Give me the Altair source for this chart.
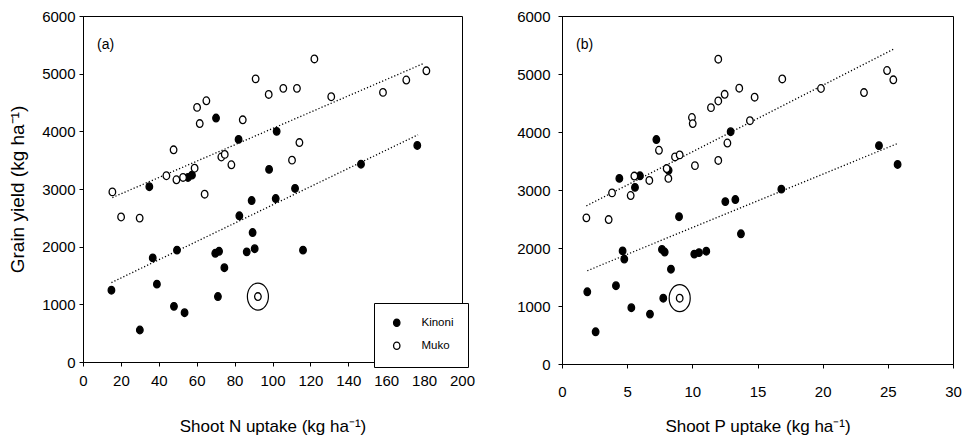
import altair as alt
import pandas as pd

# ---------------- data ----------------
# Panel (a): shoot N uptake (kg/ha) vs grain yield (kg/ha)
kin_a_x = [15, 30, 35, 36.8, 39, 49.6, 48, 53.6, 55.4, 57.5, 70.2, 69.8, 71.8, 71.2,
           74.6, 82.1, 82.5, 86.4, 89, 89.5, 90.6, 98.2, 102.2, 101.7, 111.9, 116.1,
           146.7, 176.4]
kin_a_y = [1245, 555, 3040, 1805, 1350, 1940, 965, 855, 3200, 3240, 4230, 1885, 1920,
           1135, 1635, 3860, 2535, 1910, 2800, 2245, 1965, 3340, 4000, 2835, 3010, 1940,
           3430, 3755]
muko_a_x = [15.5, 20.1, 29.9, 44, 47.8, 49.3, 52.8, 58.9, 60.2, 61.6, 65.1, 64.2, 73,
            74.8, 78.3, 84.3, 91.1, 92.3, 98, 105.7, 110.3, 112.9, 114.2, 122.1, 131,
            158.3, 170.6, 181.2]
muko_a_y = [2950, 2515, 2495, 3230, 3680, 3160, 3200, 3360, 4415, 4135, 4530, 2910,
            3555, 3600, 3420, 4200, 4910, 1135, 4640, 4745, 3500, 4745, 3805, 5255,
            4600, 4675, 4890, 5050]

# Panel (b): shoot P uptake (kg/ha) vs grain yield (kg/ha)
kin_b_x = [1.94, 2.58, 4.4, 4.65, 4.78, 4.14, 5.32, 5.6, 5.98, 6.75, 7.24, 7.67, 7.88,
           8.36, 7.77, 8.98, 8.18, 10.15, 10.51, 11.07, 12.53, 12.94, 13.3, 13.73,
           16.83, 24.32, 25.75]
kin_b_y = [1245, 555, 3200, 1950, 1810, 1350, 970, 3045, 3245, 860, 3870, 1975, 1930,
           1635, 1135, 2540, 3340, 1895, 1920, 1945, 2800, 4005, 2835, 2245, 3015, 3765,
           3440]
muko_b_x = [1.87, 3.58, 3.84, 5.27, 5.55, 6.7, 7.44, 8.03, 8.16, 8.67, 9.03, 9.03, 9.97,
            10.03, 10.2, 11.43, 11.99, 11.99, 11.99, 12.48, 12.69, 13.6, 14.42, 14.78,
            16.9, 19.87, 23.17, 24.94, 25.42]
muko_b_y = [2520, 2490, 2950, 2905, 3240, 3165, 3685, 3370, 3200, 3570, 3605, 1135, 4250,
            4145, 3420, 4420, 4535, 5255, 3510, 4650, 3810, 4755, 4195, 4600, 4915, 4750,
            4680, 5060, 4900]

# fitted trend lines (end points)
fit_a_site = ["Muko", "Muko", "Kinoni", "Kinoni"]
fit_a_x = [15.5, 179.8, 15, 176.8]
fit_a_y = [2852, 5178, 1377, 3940]
fit_b_site = ["Muko", "Muko", "Kinoni", "Kinoni"]
fit_b_x = [1.87, 25.42, 1.94, 25.73]
fit_b_y = [2727, 5426, 1608, 3801]

# circled outlier
ring_a_x = [92.3]
ring_a_y = [1135]
ring_b_x = [9.03]
ring_b_y = [1135]

sites = ["Kinoni", "Muko"]
x_ticks_a = list(range(0, 201, 20))
x_ticks_b = list(range(0, 31, 5))
y_ticks = list(range(0, 6001, 1000))

FONT = "'Liberation Sans', Arial, sans-serif"
DOT = "M-0.86,0A0.86,1,0,1,0,0.86,0A0.86,1,0,1,0,-0.86,0Z"
RING = "M-0.78,0A0.78,1,0,1,0,0.78,0A0.78,1,0,1,0,-0.78,0Z"


def points_df(kx, ky, mx, my):
    return pd.DataFrame({
        "x": kx + mx,
        "y": ky + my,
        "site": ["Kinoni"] * len(kx) + ["Muko"] * len(mx),
    })


def panel(pts, fit, ring, xdomain, xticks, xtitle, ytitle, label, w, h,
          show_legend, xlabpad, xtitlepad, ylabpad):
    xsc = alt.Scale(domain=xdomain, nice=False, zero=False)
    ysc = alt.Scale(domain=[0, 6000], nice=False)
    xax = alt.Axis(values=xticks, title=xtitle, format="d", tickSize=4,
                   labelPadding=xlabpad, titlePadding=xtitlepad, grid=False,
                   labelFont=FONT, labelFontSize=15, titleFont=FONT, titleFontSize=17,
                   titleFontWeight="normal", labelColor="black", titleColor="black",
                   domainColor="black", tickColor="black", labelFlush=False,
                   labelOverlap=False, labelSeparation=0)
    yax_kwargs = dict(values=y_ticks, format="d", tickSize=4, labelPadding=ylabpad,
                      grid=False, labelFont=FONT, labelFontSize=15, titleFont=FONT,
                      titleFontSize=19, titleFontWeight="normal", labelColor="black",
                      titleColor="black", domainColor="black", tickColor="black",
                      titlePadding=14, labelFlush=False, labelOverlap=False)
    if ytitle:
        yax = alt.Axis(title=ytitle, **yax_kwargs)
    else:
        yax = alt.Axis(title=None, **yax_kwargs)

    X = alt.X("x:Q", scale=xsc, axis=xax)
    Y = alt.Y("y:Q", scale=ysc, axis=yax)

    fill_kwargs = dict(scale=alt.Scale(domain=sites, range=["black", "white"]))
    if show_legend:
        legend = alt.Legend(title=None, orient="none", legendX=291, legendY=287,
                            strokeColor="black", padding=14, symbolOffset=3,
                            labelOffset=19, rowPadding=9, symbolSize=55,
                            symbolType=DOT, symbolStrokeColor="black",
                            symbolStrokeWidth=1.3, labelFont=FONT,
                            labelFontSize=11.5, labelColor="black", fillColor="white",
                            cornerRadius=0)
        fill = alt.Fill("site:N", legend=legend, **fill_kwargs)
    else:
        fill = alt.Fill("site:N", legend=None, **fill_kwargs)

    lines = alt.Chart(fit).mark_line(color="black", strokeDash=[1.2, 2.1],
                                     strokeWidth=1.3).encode(
        x=X, y=Y, detail="site:N",
    )
    dots = alt.Chart(pts).mark_point(shape=DOT, size=58, filled=True, stroke="black",
                                     strokeWidth=1.3, opacity=1).encode(
        x=X, y=Y, fill=fill,
    )
    rings = alt.Chart(ring).mark_point(shape=RING, size=729, filled=False,
                                       stroke="black", strokeWidth=1.2,
                                       opacity=1).encode(x=X, y=Y)
    tag = alt.Chart(pd.DataFrame({"t": [label]})).mark_text(
        font=FONT, fontSize=14, align="left", baseline="middle", color="black"
    ).encode(text="t:N", x=alt.value(14), y=alt.value(29))
    return alt.layer(lines, dots, rings, tag).properties(width=w, height=h)


pts_a = points_df(kin_a_x, kin_a_y, muko_a_x, muko_a_y)
pts_b = points_df(kin_b_x, kin_b_y, muko_b_x, muko_b_y)
fit_a = pd.DataFrame({"site": fit_a_site, "x": fit_a_x, "y": fit_a_y})
fit_b = pd.DataFrame({"site": fit_b_site, "x": fit_b_x, "y": fit_b_y})
ring_a = pd.DataFrame({"x": ring_a_x, "y": ring_a_y})
ring_b = pd.DataFrame({"x": ring_b_x, "y": ring_b_y})

pa = panel(pts_a, fit_a, ring_a, [0, 200], x_ticks_a, "Shoot N uptake (kg ha⁻¹)",
           "Grain yield (kg ha⁻¹)", "(a)", 379, 346, True, 7, 30, 4)
pb = panel(pts_b, fit_b, ring_b, [0, 30], x_ticks_b, "Shoot P uptake (kg ha⁻¹)",
           None, "(b)", 391, 348, False, 16, 19, 8)

chart = alt.hconcat(pa, pb, spacing=40).resolve_scale(
    fill="independent", x="independent", y="independent"
).resolve_legend(fill="independent").properties(
    padding={"left": 8, "top": 8, "right": 2, "bottom": 2},
    background="white",
).configure_view(stroke="black", strokeWidth=1).configure_axis(
    labelOverlap=False
)

chart.save("out.html", embed_options={"renderer": "svg", "actions": False})
